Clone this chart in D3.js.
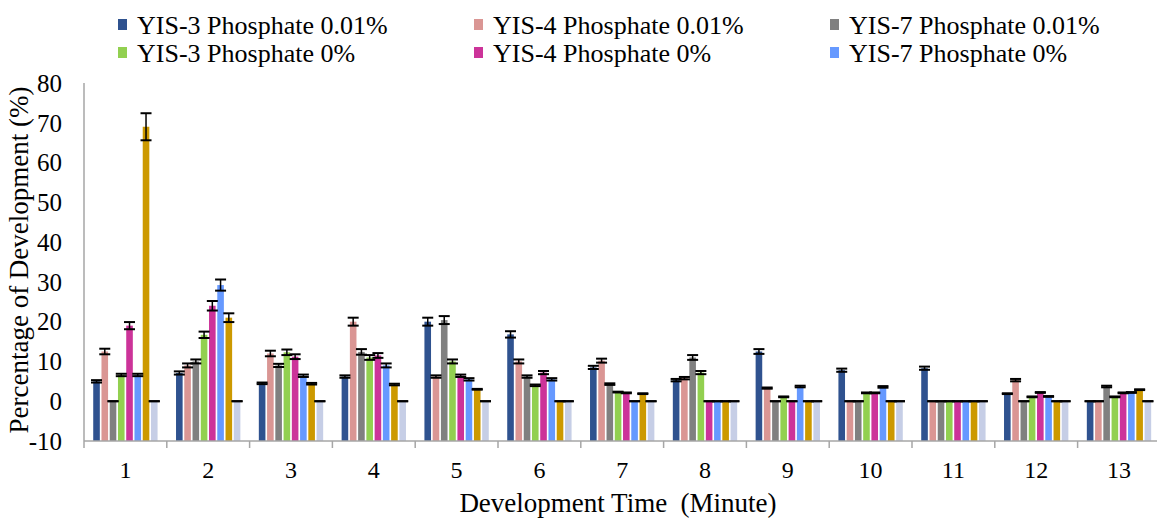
<!DOCTYPE html>
<html>
<head>
<meta charset="utf-8">
<script src="https://cdn.jsdelivr.net/npm/d3@7"></script>
<style>
  body { margin: 0; background: #fff; }
</style>
</head>
<body>
<div id="chart"></div>
<script>
const categories = ['1', '2', '3', '4', '5', '6', '7', '8', '9', '10', '11', '12', '13'];
const yTicks = [-10, 0, 10, 20, 30, 40, 50, 60, 70, 80];

const seriesNames = [
  'YIS-3 Phosphate 0.01%', 'YIS-4 Phosphate 0.01%', 'YIS-7 Phosphate 0.01%',
  'YIS-3 Phosphate 0%', 'YIS-4 Phosphate 0%', 'YIS-7 Phosphate 0%',
  'Series7', 'Series8'
];
const seriesColors = ['#2F528F', '#DA9694', '#808080', '#92D050', '#CC3399', '#6699FF', '#CC9900', '#C6CEE6'];
const legendCount = 6;

const yis3P001 = [5, 7.1, 4.5, 6.2, 20, 16.8, 8.5, 5.3, 12.5, 7.8, 8.3, 1.9, 0];
const yis4P001 = [12.5, 9, 12, 20, 6.2, 10, 10.2, 5.8, 3.3, 0, 0, 5.3, 0];
const yis7P001 = [0, 10, 9, 12.4, 20.4, 6.2, 4.3, 11, 0, 0, 0, 0, 3.7];
const yis3P0 = [6.6, 16.7, 12.3, 11, 10, 4, 2.3, 7.2, 1.1, 2.1, 0, 1.1, 1.1];
const yis4P0 = [19, 24, 11.2, 11.5, 6.4, 7.2, 2.1, 0, 0, 2.1, 0, 2.2, 2.1];
const yis7P0 = [6.6, 29.2, 6.4, 9, 5.5, 5.5, 0, 0, 3.7, 3.6, 0, 1.2, 2.2];
const series7 = [69, 21, 4.4, 4.2, 3, 0, 1.9, 0, 0, 0, 0, 0, 2.9];
const series8 = [0, 0, 0, 0, 0, 0, 0, 0, 0, 0, 0, 0, 0];

const yis3P001Err = [0.3, 0.4, 0.2, 0.3, 1, 0.8, 0.4, 0.3, 0.6, 0.4, 0.4, 0.1, 0];
const yis4P001Err = [0.7, 0.5, 0.7, 1, 0.3, 0.5, 0.5, 0.3, 0.15, 0, 0, 0.3, 0];
const yis7P001Err = [0, 0.5, 0.4, 0.7, 1, 0.3, 0.2, 0.6, 0, 0, 0, 0, 0.2];
const yis3P0Err = [0.3, 0.8, 0.7, 0.6, 0.5, 0.2, 0.1, 0.4, 0.1, 0.1, 0, 0.1, 0.1];
const yis4P0Err = [0.9, 1.2, 0.6, 0.6, 0.3, 0.4, 0.1, 0, 0, 0.1, 0, 0.1, 0.1];
const yis7P0Err = [0.3, 1.4, 0.3, 0.5, 0.3, 0.3, 0, 0, 0.2, 0.2, 0, 0.1, 0.1];
const series7Err = [3.4, 1.1, 0.2, 0.2, 0.1, 0, 0.1, 0, 0, 0, 0, 0, 0.1];
const series8Err = [0, 0, 0, 0, 0, 0, 0, 0, 0, 0, 0, 0, 0];

const seriesValues = [yis3P001, yis4P001, yis7P001, yis3P0, yis4P0, yis7P0, series7, series8];
const seriesErrors = [yis3P001Err, yis4P001Err, yis7P001Err, yis3P0Err, yis4P0Err, yis7P0Err, series7Err, series8Err];

const WIDTH = 1157;
const HEIGHT = 518;
const FONT = "'Liberation Serif', 'DejaVu Serif', serif";
const margin = { left: 84, top: 83, bottom: 441 };
const plotRight = 84 + 13 * 82.8;

const svg = d3.select('#chart')
  .append('svg')
  .attr('width', WIDTH)
  .attr('height', HEIGHT)
  .attr('font-family', FONT);

const x0 = d3.scaleBand()
  .domain(categories)
  .range([margin.left, plotRight])
  .paddingInner(0.183)
  .paddingOuter(0.0915);

const x1 = d3.scaleBand()
  .domain(d3.range(seriesNames.length))
  .range([0, x0.bandwidth()])
  .padding(0.2);

const y = d3.scaleLinear()
  .domain([-10, 80])
  .range([margin.bottom, margin.top]);

// one row per bar: category, series index, value, error
const rows = [];
categories.forEach((c, i) => {
  seriesValues.forEach((vals, s) => {
    rows.push({ cat: c, s: s, value: vals[i], err: seriesErrors[s][i] });
  });
});

// bars start at the axis floor (-10)
svg.append('g')
  .selectAll('rect')
  .data(rows)
  .enter()
  .append('rect')
  .attr('x', (d) => x0(d.cat) + x1(d.s))
  .attr('width', x1.bandwidth())
  .attr('y', (d) => y(d.value))
  .attr('height', (d) => y(-10) - y(d.value))
  .attr('fill', (d) => seriesColors[d.s]);

// error bars
const capW = 11;
const eb = svg.append('g')
  .selectAll('g')
  .data(rows)
  .enter()
  .append('g')
  .attr('transform', (d) => 'translate(' + (x0(d.cat) + x1(d.s) + x1.bandwidth() / 2) + ',0)');

eb.append('line')
  .attr('y1', (d) => y(d.value + d.err))
  .attr('y2', (d) => y(d.value - d.err))
  .attr('stroke', '#000')
  .attr('stroke-width', 1.5);

eb.selectAll('.cap')
  .data((d) => [d.value + d.err, d.value - d.err])
  .enter()
  .append('line')
  .attr('class', 'cap')
  .attr('x1', -capW / 2)
  .attr('x2', capW / 2)
  .attr('y1', (v) => y(v))
  .attr('y2', (v) => y(v))
  .attr('stroke', '#000')
  .attr('stroke-width', 2);

// y axis
svg.append('line')
  .attr('x1', margin.left).attr('x2', margin.left)
  .attr('y1', margin.top).attr('y2', margin.bottom)
  .attr('stroke', '#A6A6A6')
  .attr('stroke-width', 1.5);

svg.append('g')
  .selectAll('text')
  .data(yTicks)
  .enter()
  .append('text')
  .attr('x', 62)
  .attr('y', (d) => y(d))
  .attr('dy', '0.35em')
  .attr('text-anchor', 'end')
  .attr('font-size', 25)
  .text((d) => d);

// x axis
svg.append('line')
  .attr('x1', margin.left).attr('x2', plotRight)
  .attr('y1', margin.bottom).attr('y2', margin.bottom)
  .attr('stroke', '#A6A6A6')
  .attr('stroke-width', 1.5);

const step = x0.step();
svg.append('g')
  .selectAll('line')
  .data(d3.range(categories.length + 1))
  .enter()
  .append('line')
  .attr('x1', (i) => margin.left + i * step)
  .attr('x2', (i) => margin.left + i * step)
  .attr('y1', margin.bottom)
  .attr('y2', margin.bottom + 7)
  .attr('stroke', '#A6A6A6')
  .attr('stroke-width', 1.5);

svg.append('g')
  .selectAll('text')
  .data(categories)
  .enter()
  .append('text')
  .attr('x', (d) => x0(d) + x0.bandwidth() / 2)
  .attr('y', 470)
  .attr('dy', '0.35em')
  .attr('text-anchor', 'middle')
  .attr('font-size', 24)
  .text((d) => d);

// axis titles
svg.append('text')
  .attr('x', 618)
  .attr('y', 512)
  .attr('text-anchor', 'middle')
  .attr('font-size', 27)
  .style('white-space', 'pre')
  .text('Development Time  (Minute)');

svg.append('text')
  .attr('transform', 'translate(28,' + 260 + ') rotate(-90)')
  .attr('text-anchor', 'middle')
  .attr('font-size', 27)
  .text('Percentage of Development (%)');

// legend: 3 columns x 2 rows
const legendX = [118, 474, 830];
const legendY = [25, 53];
const legend = svg.append('g')
  .selectAll('g')
  .data(seriesNames.slice(0, legendCount))
  .enter()
  .append('g')
  .attr('transform', (d, i) => 'translate(' + legendX[i % 3] + ',' + legendY[Math.floor(i / 3)] + ')');

legend.append('rect')
  .attr('x', 0)
  .attr('y', -6)
  .attr('width', 9)
  .attr('height', 11)
  .attr('fill', (d, i) => seriesColors[i]);

legend.append('text')
  .attr('x', 19)
  .attr('y', 0)
  .attr('dy', '0.35em')
  .attr('font-size', 26)
  .text((d) => d);
</script>
</body>
</html>
